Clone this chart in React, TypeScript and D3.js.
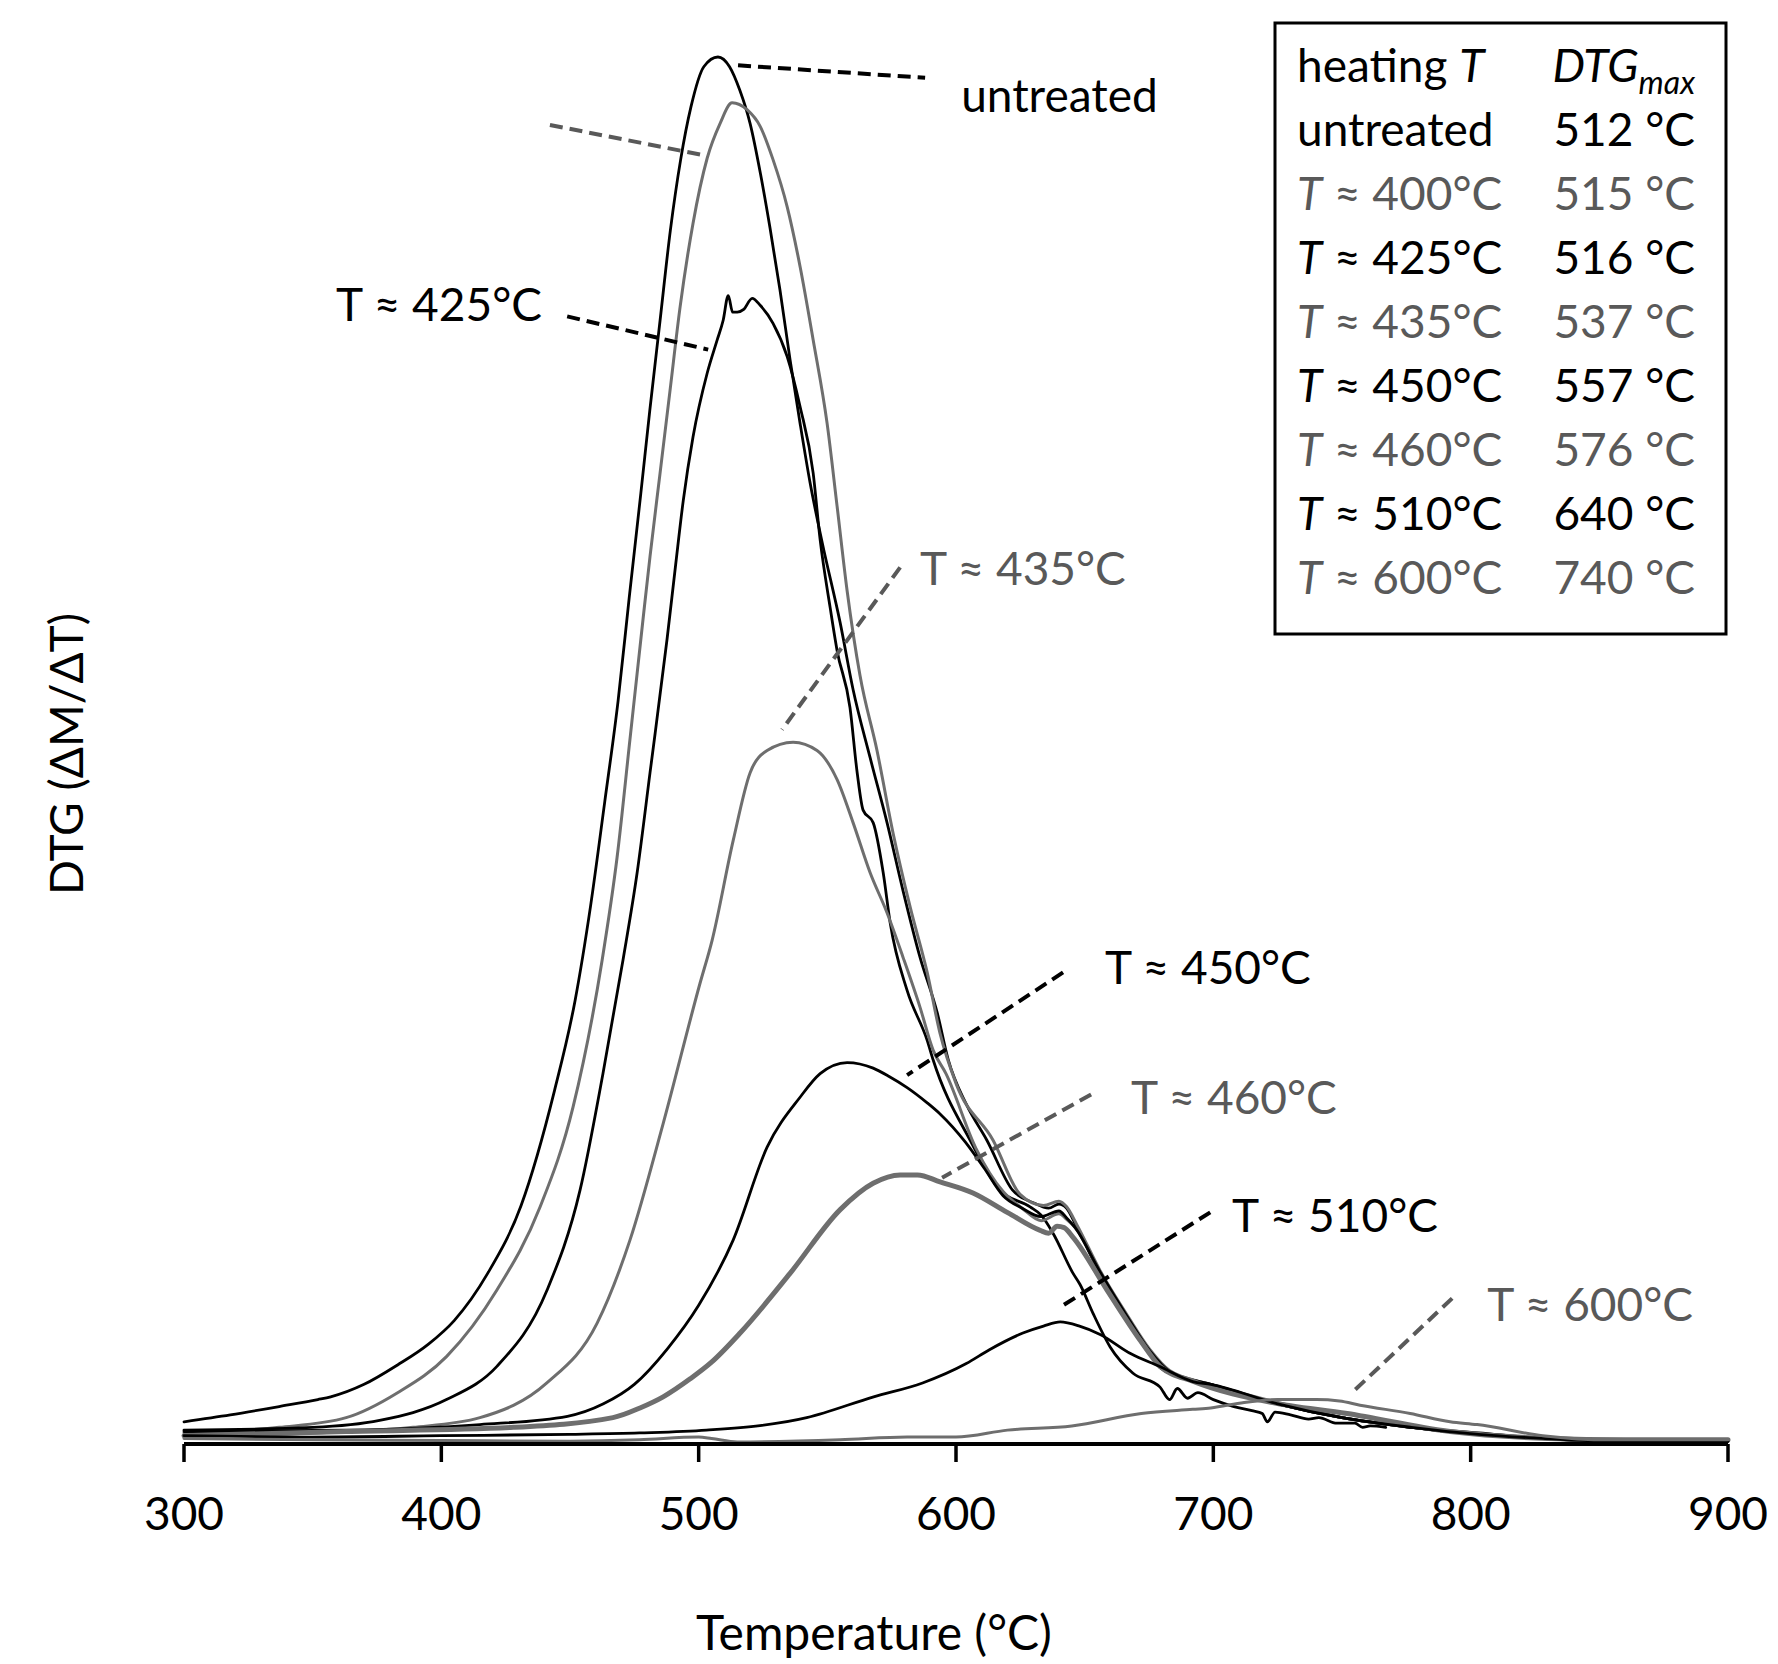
import React from "react";
import * as d3 from "d3";

type Pt = [number, number];

// x ticks
const xTicks: number[] = [300, 400, 500, 600, 700, 800, 900];

// DTG curves: [temperature °C, relative DTG (untreated peak = 100)]
const untreated: Pt[] = [
  [300, 1.6], [318, 2.1], [337, 2.7], [352, 3.2], [357, 3.4], [370, 4.3], [383, 5.7], [395, 7.2],
  [405, 8.9], [418, 12.3], [431, 17.2], [444, 25.5], [452, 32.0], [458, 38.8], [463.5, 46.3],
  [468.7, 53.6], [473, 61.0], [477.5, 68.5], [481, 74.5], [485, 81.0], [489, 87.5], [493, 92.6],
  [497, 96.4], [502, 99.3], [507.5, 100], [512, 99.3], [516, 97.6], [520, 95.2], [524, 91.6],
  [527.7, 87.7], [531.6, 83.2], [535.5, 78.2], [539.4, 73.6], [543.3, 69.3], [548, 65.0],
  [555, 59.2], [560, 54.4], [566.6, 49.5], [573.2, 44.8], [579.4, 39.9], [586, 35.1],
  [592.7, 31.1], [597, 27.7], [604, 24.5], [612, 21.9], [622, 18.3], [630, 17.4], [636, 17.0],
  [640, 17.3], [643, 17.0], [647, 15.6], [656, 12.3], [666.5, 9.2], [674.3, 6.8], [679.3, 5.5],
  [690, 4.7], [699, 4.3], [725, 2.9], [750, 1.9], [777, 1.2], [803, 0.8], [828, 0.4], [854, 0.2],
  [880, 0.2], [900, 0.3],
];

const t400: Pt[] = [
  [300, 0.8], [337, 1.2], [363, 1.9], [383, 3.7], [402, 6.3], [421.6, 11.1], [438.4, 17.1],
  [451.2, 24.3], [462.5, 34.9], [468.3, 42.3], [473.3, 50.8], [478.4, 59.5], [481.1, 64.0],
  [485, 70.0], [488.9, 76.0], [492.8, 82.0], [497.8, 88.0], [503.3, 92.7], [508.3, 95.2],
  [513, 96.7], [518.8, 96.2], [523.9, 95.0], [528.9, 92.6], [534.4, 89.2], [539.4, 84.9],
  [544.5, 79.6], [549.9, 73.6], [553.8, 67.6], [557.7, 61.5], [562.7, 55.4], [569.3, 50.0],
  [575.6, 44.0], [582.2, 38.7], [588.8, 34.0], [593.8, 29.6], [600, 26.0], [614.4, 21.9],
  [624.9, 18.0], [634, 17.2], [640, 17.5], [643, 17.1], [647, 15.8], [656, 12.5], [666.5, 9.3],
  [675.4, 6.8], [683, 5.3], [699, 4.3], [725, 3.0], [750, 1.9], [777, 1.2], [803, 0.7],
  [828, 0.4], [854, 0.2], [900, 0.2],
];

const t425: Pt[] = [
  [300, 1.0], [350, 1.2], [376, 1.7], [402, 3.2], [421.6, 5.6], [441.1, 11.1], [453.9, 18.3],
  [462.8, 26.7], [470.6, 34.9], [476.1, 41.2], [481.1, 48.4], [487.7, 58.0], [491, 63.3],
  [494, 68.0], [497.8, 72.6], [503.3, 77.2], [507.2, 79.6], [509.5, 81.0], [511.5, 82.8],
  [513.2, 81.6], [515, 81.6], [517.5, 81.8], [520.8, 82.6], [523.9, 82.1], [528.9, 80.8],
  [534.4, 78.4], [539.4, 74.8], [544.5, 70.0], [547.2, 65.2], [551.1, 60.3], [553.8, 57.2],
  [558.8, 53.1], [561.6, 48.4], [563.9, 45.7], [567.8, 44.8], [571.7, 41.2], [574.4, 37.6],
  [581, 32.7], [588.8, 29.1], [591.1, 27.7], [605.5, 21.9], [617.1, 18.3], [628.8, 17.1],
  [633.1, 16.5], [637.7, 15.2], [645.5, 12.3], [648.2, 11.5], [653.3, 9.4], [659.9, 7.0],
  [668.8, 5.1], [679.3, 4.1], [683, 3.2], [686, 4.0], [690, 3.3], [694, 3.7], [700, 3.2],
  [708, 2.7], [715, 2.4], [719, 2.2], [721, 1.6], [724, 2.3], [730, 2.1], [737, 1.8],
  [741, 1.9], [748, 1.5], [755, 1.5], [758, 1.2], [761, 1.3], [767, 1.2],
];

const t435: Pt[] = [
  [300, 0.6], [350, 0.8], [389, 1.2], [415, 1.9], [441, 4.4], [460.5, 8.7], [473.3, 14.7],
  [486.2, 23.1], [500.5, 33.2], [505.2, 36.3], [513.4, 43.5], [520, 48.4], [526.6, 50.0],
  [536.7, 50.6], [546, 50.0], [553.8, 47.9], [560, 44.8], [566.6, 41.2], [573.2, 38.3],
  [579.4, 35.1], [586, 31.5], [591.1, 28.4], [596.1, 26.7], [607.8, 21.3], [618.3, 18.2],
  [625.7, 17.0], [633.1, 16.1], [640, 16.6], [643, 16.2], [646.3, 15.6], [656, 12.4],
  [666.5, 9.1], [675.4, 6.6], [683.2, 5.2], [699, 4.2], [725, 2.9], [750, 1.9], [777, 1.2],
  [803, 0.7], [828, 0.4], [854, 0.2], [900, 0.2],
];

const t450: Pt[] = [
  [300, 0.9], [363, 1.0], [415, 1.4], [449, 2.0], [463, 2.9], [475, 4.3], [488, 6.9],
  [500, 10.0], [513.4, 14.7], [526.6, 21.4], [539.4, 25.0], [547.2, 26.7], [557.7, 27.5],
  [567.8, 27.1], [574, 26.5], [581, 25.7], [588.8, 24.6], [593.8, 23.8], [603.5, 21.8],
  [610.9, 19.9], [618.3, 17.9], [625.7, 17.0], [633, 16.4], [640, 16.8], [643, 16.3],
  [646.3, 15.6], [656, 12.4], [666.5, 9.2], [675.4, 6.7], [683.2, 5.2], [699, 4.3],
  [725, 2.9], [750, 1.9], [777, 1.2], [803, 0.7], [828, 0.4], [854, 0.2], [900, 0.2],
];

const t460: Pt[] = [
  [300, 0.6], [363, 0.9], [428, 1.2], [466.7, 1.9], [477.2, 2.6], [486.2, 3.4], [496.7, 4.7],
  [505, 5.9], [516.1, 8.0], [535.5, 12.3], [555, 16.9], [567.8, 18.8], [578.3, 19.4],
  [585, 19.4], [593.8, 18.9], [606.6, 18.1], [619.9, 16.7], [632.7, 15.4], [636, 15.2],
  [639.3, 15.7], [642, 15.6], [645.5, 14.9], [658.7, 11.1], [671.5, 7.5], [679.3, 5.6],
  [692.5, 4.5], [722.5, 3.0], [752, 2.2], [792, 0.9], [830, 0.4], [860, 0.3], [900, 0.3],
];

const t510: Pt[] = [
  [300, 0.6], [350, 0.5], [400, 0.6], [450, 0.7], [477, 0.8], [503, 1.0], [542, 1.9],
  [568, 3.4], [587, 4.4], [604, 5.8], [613, 6.8], [626, 8.0], [634, 8.5], [640.5, 8.8],
  [648, 8.5], [656, 7.9], [668, 6.5], [679, 5.6], [692, 4.5], [699, 4.3], [725, 2.9],
  [750, 1.9], [777, 1.2], [803, 0.7], [828, 0.4], [854, 0.2], [900, 0.2],
];

const t600: Pt[] = [
  [300, 0.4], [350, 0.3], [400, 0.25], [450, 0.2], [477, 0.3], [500, 0.5], [505, 0.4],
  [515, 0.15], [555, 0.3], [581, 0.5], [600, 0.5], [620, 1.0], [645, 1.3], [672, 2.2],
  [692, 2.5], [699, 2.6], [712, 3.0], [725, 3.2], [740, 3.2], [749, 3.1], [757, 2.8],
  [776.5, 2.2], [792, 1.6], [802.5, 1.4], [828, 0.6], [854, 0.3], [900, 0.3],
];

// legend table
const legendHeating: string[] = ["untreated", "400", "425", "435", "450", "460", "510", "600"];
const legendPeak: number[] = [512, 515, 516, 537, 557, 576, 640, 740];

// annotation labels: text, anchor [T, v], leader line start/end [T, v]
const annoText: string[] = ["untreated", "", "T ≈ 425°C", "T ≈ 435°C", "T ≈ 450°C", "T ≈ 460°C", "T ≈ 510°C", "T ≈ 600°C"];
const annoAt: Pt[] = [[602, 96.0], [0, 0], [359.1, 81.0], [586, 61.9], [657.9, 33.2], [668, 23.8], [707.3, 15.3], [806.4, 8.9]];
const leaderFrom: Pt[] = [[515.3, 99.4], [442.2, 95.1], [448.9, 81.3], [578.3, 63.2], [641.6, 34.0], [652.5, 25.2], [698.8, 16.7], [792.8, 10.5]];
const leaderTo: Pt[] = [[588, 98.5], [502.5, 92.9], [503.7, 78.9], [532.4, 51.5], [581, 26.6], [594.6, 19.2], [640.8, 9.9], [753.9, 3.7]];

const BLACK = "#000000";
const GRAY_LINE = "#6e6e6e";
const GRAY_TEXT = "#595959";
const FONT = "Lato, 'Noto Sans', 'DejaVu Sans', sans-serif";

const allSeries: Pt[][] = [untreated, t400, t425, t435, t450, t460, t510, t600];
const seriesColor = [BLACK, GRAY_LINE, BLACK, GRAY_LINE, BLACK, GRAY_LINE, BLACK, GRAY_LINE];
const seriesWidth = [2.8, 3, 2.8, 3, 2.8, 5, 2.8, 3];

export default function App() {
  const W = 1778, H = 1664;
  const x = d3.scaleLinear().domain([300, 900]).range([184, 1728]);
  const y = d3.scaleLinear().domain([0, 100]).range([1444, 57]);
  const line = d3
    .line<Pt>()
    .x((d) => x(d[0]))
    .y((d) => y(d[1]))
    .curve(d3.curveMonotoneX);

  const y0 = y(0);
  const legX0 = 1275, legY0 = 23, legX1 = 1726, legY1 = 634;
  const rowBase = (i: number) => 82 + 64 * i;

  return (
    <svg
      width={W}
      height={H}
      viewBox={`0 0 ${W} ${H}`}
      style={{ position: "absolute", left: 0, top: 0, background: "#fff" }}
      fontFamily={FONT}
    >
      <rect x={0} y={0} width={W} height={H} fill="#fff" />

      {/* curves */}
      {allSeries.map((s, i) => (
        <path
          key={i}
          d={line(s) || ""}
          fill="none"
          stroke={seriesColor[i]}
          strokeWidth={seriesWidth[i]}
          strokeLinejoin="round"
          strokeLinecap="round"
        />
      ))}

      {/* x axis */}
      <line x1={x(300)} x2={x(900)} y1={y0} y2={y0} stroke={BLACK} strokeWidth={4} />
      {xTicks.map((t) => (
        <g key={t}>
          <line x1={x(t)} x2={x(t)} y1={y0} y2={y0 + 18} stroke={BLACK} strokeWidth={3.5} />
          <text x={x(t)} y={1530} fontSize={46} textAnchor="middle" fill={BLACK}>
            {t}
          </text>
        </g>
      ))}
      <text x={874} y={1650} fontSize={48} textAnchor="middle" fill={BLACK}>
        Temperature (°C)
      </text>
      <text
        transform={`translate(83, 754) rotate(-90)`}
        fontSize={46}
        textAnchor="middle"
        fill={BLACK}
      >
        DTG (ΔM/ΔT)
      </text>

      {/* leader lines and labels */}
      {leaderFrom.map((p, i) => {
        const c = i % 2 === 0 ? BLACK : GRAY_TEXT;
        return (
          <g key={i}>
            <line
              x1={x(p[0])}
              y1={y(p[1])}
              x2={x(leaderTo[i][0])}
              y2={y(leaderTo[i][1])}
              stroke={c}
              strokeWidth={4}
              strokeDasharray="13 7"
            />
            {annoText[i] && (
              <text x={x(annoAt[i][0])} y={y(annoAt[i][1])} fontSize={46} fill={c}>
                {annoText[i]}
              </text>
            )}
          </g>
        );
      })}

      {/* legend table */}
      <rect
        x={legX0}
        y={legY0}
        width={legX1 - legX0}
        height={legY1 - legY0}
        fill="#fff"
        stroke={BLACK}
        strokeWidth={3}
      />
      <text x={1297} y={rowBase(0)} fontSize={46} fill={BLACK}>
        heating <tspan fontStyle="italic">T</tspan>
      </text>
      <text x={1695} y={rowBase(0)} fontSize={46} fill={BLACK} textAnchor="end">
        <tspan fontStyle="italic">DTG</tspan>
        <tspan fontStyle="italic" fontSize={32} dy={12}>
          max
        </tspan>
      </text>
      {legendHeating.map((h, i) => {
        const c = i % 2 === 0 ? BLACK : GRAY_TEXT;
        const yy = rowBase(i + 1);
        return (
          <g key={h}>
            <text x={1297} y={yy} fontSize={46} fill={c}>
              {i === 0 ? (
                h
              ) : (
                <>
                  <tspan fontStyle="italic">T</tspan>
                  {` ≈ ${h}°C`}
                </>
              )}
            </text>
            <text x={1695} y={yy} fontSize={46} fill={c} textAnchor="end">
              {`${legendPeak[i]} °C`}
            </text>
          </g>
        );
      })}
    </svg>
  );
}
